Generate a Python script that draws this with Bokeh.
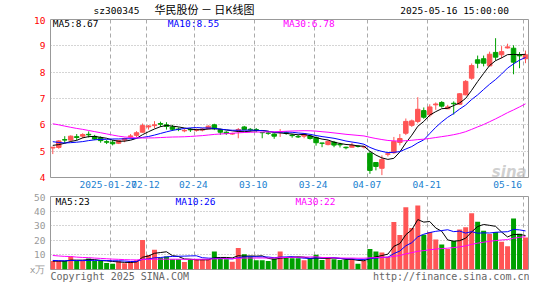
import numpy as np
import pandas as pd
from bokeh.plotting import figure
from bokeh.layouts import column
from bokeh.models import Range1d, FixedTicker, Label, ColumnDataSource
from bokeh.embed import file_html
from bokeh.resources import INLINE

# ---------------- data ----------------
opens = [5.12, 5.14, 5.44, 5.42, 5.55, 5.57, 5.64, 5.56, 5.51, 5.36,
         5.34, 5.30, 5.42, 5.55, 5.60, 5.72, 5.92, 5.97, 6.05, 6.00,
         5.92, 5.84, 5.77, 5.83, 5.79, 5.80, 5.85, 6.00, 5.81, 5.72,
         5.65, 5.78, 5.92, 5.83, 5.82, 5.71, 5.69, 5.65, 5.71, 5.70,
         5.61, 5.56, 5.57, 5.58, 5.52, 5.31, 5.25, 5.34, 5.26, 5.15,
         5.15, 5.19, 5.16, 4.92, 4.57, 4.35, 4.88, 4.94, 5.33, 5.68,
         5.98, 6.13, 6.54, 6.38, 6.76, 6.85, 6.61, 6.82, 6.78, 7.14,
         7.77, 8.47, 8.51, 8.24, 8.75, 8.66, 8.92, 8.91, 8.66, 8.51]
highs = [5.16, 5.42, 5.57, 5.60, 5.65, 5.68, 5.75, 5.62, 5.56, 5.42,
         5.42, 5.43, 5.51, 5.65, 5.76, 6.05, 5.99, 6.14, 6.12, 6.10,
         6.00, 5.90, 5.84, 5.88, 5.86, 5.88, 5.98, 6.04, 5.85, 5.76,
         5.70, 5.88, 5.96, 5.88, 5.88, 5.72, 5.76, 5.68, 5.84, 5.75,
         5.66, 5.62, 5.69, 5.62, 5.56, 5.31, 5.41, 5.39, 5.32, 5.17,
         5.32, 5.22, 5.20, 5.00, 4.58, 4.84, 4.95, 5.54, 5.65, 6.24,
         6.20, 7.05, 6.66, 6.78, 6.85, 6.90, 6.76, 6.89, 7.20, 7.70,
         8.33, 8.63, 8.63, 8.78, 9.29, 8.99, 9.08, 9.02, 8.76, 8.82]
lows = [4.89, 5.09, 5.29, 5.39, 5.42, 5.49, 5.52, 5.42, 5.32, 5.27,
        5.22, 5.27, 5.34, 5.47, 5.53, 5.70, 5.82, 5.87, 5.92, 5.82,
        5.77, 5.76, 5.72, 5.73, 5.74, 5.75, 5.83, 5.80, 5.62, 5.62,
        5.62, 5.49, 5.80, 5.74, 5.72, 5.49, 5.62, 5.47, 5.54, 5.62,
        5.51, 5.50, 5.49, 5.44, 5.21, 5.15, 5.22, 5.15, 5.14, 5.07,
        5.14, 5.14, 5.10, 4.14, 4.27, 4.09, 4.80, 4.90, 5.22, 5.61,
        5.92, 6.06, 6.23, 6.29, 6.57, 6.65, 6.60, 6.39, 6.76, 7.12,
        7.71, 8.15, 8.22, 8.22, 8.44, 8.53, 8.90, 7.92, 8.15, 8.34]
closes = [5.15, 5.39, 5.42, 5.57, 5.52, 5.63, 5.62, 5.46, 5.40, 5.34,
          5.28, 5.40, 5.48, 5.58, 5.70, 5.97, 5.96, 6.00, 6.02, 5.94,
          5.83, 5.82, 5.79, 5.81, 5.82, 5.84, 5.95, 5.85, 5.72, 5.67,
          5.67, 5.82, 5.82, 5.81, 5.78, 5.70, 5.68, 5.57, 5.73, 5.68,
          5.59, 5.54, 5.65, 5.48, 5.32, 5.30, 5.37, 5.23, 5.24, 5.13,
          5.22, 5.18, 5.17, 4.27, 4.42, 4.68, 4.90, 5.37, 5.48, 6.13,
          6.15, 6.59, 6.29, 6.68, 6.79, 6.71, 6.68, 6.80, 7.18, 7.65,
          8.25, 8.34, 8.34, 8.68, 8.57, 8.78, 8.96, 8.38, 8.62, 8.66]
# closes before the visible window (estimated, needed for the moving averages)
prior_closes = [6.60, 6.85, 6.95, 6.80, 6.70, 6.90, 6.75, 6.65, 6.70, 6.60, 6.63,
                6.40, 6.25, 6.10, 6.05, 5.95, 5.85, 5.70, 5.62, 5.55,
                5.70, 5.60, 5.45, 5.35, 5.40, 5.24, 5.17, 5.22, 5.32]
volumes = [5.8, 5.8, 5.8, 8.9, 5.8, 5.8, 7.5, 5.8, 5.8, 4.5,
           4.0, 5.8, 4.3, 5.4, 6.3, 20.2, 10.0, 13.6, 8.0, 8.9,
           7.0, 7.0, 5.2, 7.0, 7.0, 7.0, 7.0, 12.3, 7.9, 7.1,
           5.3, 14.7, 10.5, 8.9, 6.4, 6.4, 5.9, 7.5, 12.3, 8.3,
           7.7, 7.7, 6.3, 7.7, 10.1, 6.5, 7.7, 7.1, 6.5, 6.5,
           7.1, 4.0, 5.8, 14.1, 12.3, 11.7, 8.7, 32.5, 23.6, 42.7,
           28.4, 43.8, 23.8, 25.6, 20.6, 17.1, 14.1, 19.6, 27.4, 29.0,
           38.5, 32.7, 26.6, 24.4, 25.6, 19.0, 16.0, 35.0, 24.5, 22.0]
prior_volumes = [16, 14, 12, 18, 13, 11, 15, 12, 11.5, 12,
                 10, 11, 9, 8.5, 10, 9, 8, 9.5, 8.5, 8,
                 7.5, 6.5, 7, 6.5, 6, 5.5, 6, 5.2, 6]
tick_labels = ["2025-01-27", "02-12", "02-24", "03-10", "03-24", "04-07", "04-21", "05-16"]
tick_index = [10, 16, 24, 34, 44, 53, 63, 79]
price_ticks = [4, 5, 6, 7, 8, 9, 10]
volume_ticks = [0, 10, 20, 30, 40, 50]
footer_texts = ["Copyright 2025 SINA.COM", "http://finance.sina.com.cn"]

# ---------------- styles ----------------
RED = "#FF5555"
GREEN = "#00A000"
MONO = "DejaVu Sans Mono"
FS = "9.5px"
GRID = "#AAAAAA"
W = 529
LEFT = 50
RIGHT = 1
XR = (-0.38, 79.5)
PXU = (W - LEFT - RIGHT) / (XR[1] - XR[0])   # pixels per candle slot

N = len(closes)
x = np.arange(N)
ac = pd.Series(prior_closes + closes, dtype=float)
av = pd.Series(prior_volumes + volumes, dtype=float)
ma = {}
for n in (5, 10, 30):
    ma["p%d" % n] = ac.rolling(n).mean().to_numpy()[-N:]
    ma["v%d" % n] = av.rolling(n).mean().to_numpy()[-N:]

o = np.array(opens); c = np.array(closes)
colors = [RED if cc >= oo else GREEN for oo, cc in zip(opens, closes)]
src = ColumnDataSource(dict(
    x=x, o=o, h=highs, l=lows, c=c,
    top=np.maximum(o, c), bottom=np.minimum(o, c),
    color=colors, vol=volumes, **ma))

xr = Range1d(*XR)
grid_x = [i - 0.33 for i in tick_index]
label_pos = [i - 0.5 for i in tick_index]
label_pos[0] = tick_index[0] - 0.75
label_pos[-1] = tick_index[-1] - 3


def px_to_x(fx):
    return XR[0] + (fx - LEFT) / PXU


def style_common(p):
    p.outline_line_color = "#999999"
    p.outline_line_width = 1
    p.xgrid.ticker = FixedTicker(ticks=grid_x)
    p.xgrid.grid_line_color = GRID
    p.xgrid.grid_line_dash = "4 3"
    p.ygrid.grid_line_color = GRID
    p.ygrid.grid_line_dash = "1 2"
    for ax in p.yaxis:
        ax.axis_line_color = None
        ax.major_tick_line_color = None
        ax.minor_tick_line_color = None
        ax.major_tick_out = 0
        ax.major_tick_in = 0
        ax.major_label_standoff = 5
        ax.major_label_text_font = MONO
        ax.major_label_text_font_size = FS


def style_xaxis(ax, color, size, standoff):
    ax.axis_line_color = None
    ax.major_tick_line_color = None
    ax.minor_tick_line_color = None
    ax.major_tick_out = 0
    ax.major_tick_in = 0
    ax.major_label_standoff = standoff
    ax.major_label_text_font = MONO
    ax.major_label_text_font_size = size
    ax.major_label_text_color = color


def lab(p, xx, yy, text, color="black", font=MONO, size=FS, align="left", baseline="middle", **kw):
    p.add_layout(Label(x=xx, y=yy, text=text, text_color=color, text_font=font,
                       text_font_size=size, text_align=align, text_baseline=baseline, **kw))


# ---------------- header row (y measured upward from the row's bottom) ----------------
HH = 16
ph = figure(width=W, height=HH, x_range=Range1d(0, W), y_range=Range1d(0, HH),
            title=None, output_backend="svg", toolbar_location=None,
            x_axis_location=None, y_axis_location=None,
            min_border_left=0, min_border_right=0, min_border_top=0, min_border_bottom=0)
ph.outline_line_color = None
ph.grid.visible = False
lab(ph, 47.7, HH - 10, "sz300345")
lab(ph, 115, HH - 8, "华民股份 － 日K线图", font="Noto Sans CJK SC", size="11px")
lab(ph, 507.3, HH - 10, "2025-05-16 15:00:00", align="right")

# ---------------- price panel ----------------
p1 = figure(width=W, height=175, x_range=xr, y_range=Range1d(4, 10),
            title=None, output_backend="svg", toolbar_location=None,
            min_border_left=LEFT, min_border_right=RIGHT, min_border_top=3, min_border_bottom=14)
style_common(p1)
p1.ygrid.ticker = FixedTicker(ticks=[t for t in price_ticks if 4 < t < 10])
p1.yaxis.ticker = FixedTicker(ticks=price_ticks)
p1.yaxis.major_label_text_color = "#FF0000"
xa = p1.xaxis[0]
xa.ticker = FixedTicker(ticks=label_pos)
xa.major_label_overrides = {pos: t for pos, t in zip(label_pos, tick_labels)}
style_xaxis(xa, "#1A7FD0", FS, 3)

p1.segment(x0="x", y0="l", x1="x", y1="h", color="color", line_width=1, source=src)
p1.vbar(x="x", top="top", bottom="bottom", width=0.75, fill_color="color",
        line_color="color", line_width=1, source=src)
p1.line("x", "p5", color="black", line_width=1, source=src)
p1.line("x", "p10", color="#0000FF", line_width=1, source=src)
p1.line("x", "p30", color="#FF00FF", line_width=1, source=src)

lab(p1, px_to_x(52.3), 9.83, "MA5:8.67")
lab(p1, px_to_x(167.3), 9.83, "MA10:8.55", color="#0000FF")
lab(p1, px_to_x(282.7), 9.83, "MA30:6.78", color="#FF00FF")
lab(p1, 79.2, 4.19, "sina", color="#BBBBBB", font="DejaVu Sans", size="15px",
    align="right", baseline="alphabetic", text_font_style="bold italic", text_alpha=0.7)

# ---------------- volume panel ----------------
p2 = figure(width=W, height=284 - HH - 175, x_range=xr, y_range=Range1d(0, 50),
            title=None, output_backend="svg", toolbar_location=None,
            min_border_left=LEFT, min_border_right=RIGHT, min_border_top=5, min_border_bottom=13)
style_common(p2)
p2.ygrid.ticker = FixedTicker(ticks=[t for t in volume_ticks if 0 < t < 50])
p2.yaxis.ticker = FixedTicker(ticks=volume_ticks)
p2.yaxis.major_label_overrides = {0: "x万"}
p2.yaxis.major_label_text_color = "#999999"

# footer texts carried by the lower axis (left-aligned / right-aligned to the frame)
cw = 6.02  # DejaVu Sans Mono advance at 10px
foot_pos = [round(px_to_x(LEFT + len(footer_texts[0]) * cw / 2), 2),
            round(px_to_x(W - len(footer_texts[1]) * cw / 2), 2)]
xb = p2.xaxis[0]
xb.ticker = FixedTicker(ticks=foot_pos)
xb.major_label_overrides = {pos: t for pos, t in zip(foot_pos, footer_texts)}
style_xaxis(xb, "#666666", "10px", 1)

p2.vbar(x="x", top="vol", bottom=0, width=0.83, fill_color="color", line_color=None, source=src)
p2.line("x", "v5", color="black", line_width=1, source=src)
p2.line("x", "v10", color="#0000FF", line_width=1, source=src)
p2.line("x", "v30", color="#FF00FF", line_width=1, source=src)

lab(p2, px_to_x(55), 46.8, "MA5:23")
lab(p2, px_to_x(175), 46.8, "MA10:26", color="#0000FF")
lab(p2, px_to_x(295), 46.8, "MA30:22", color="#FF00FF")

layout = column(ph, p1, p2, spacing=0)
open("out.html", "w").write(file_html(layout, INLINE))
